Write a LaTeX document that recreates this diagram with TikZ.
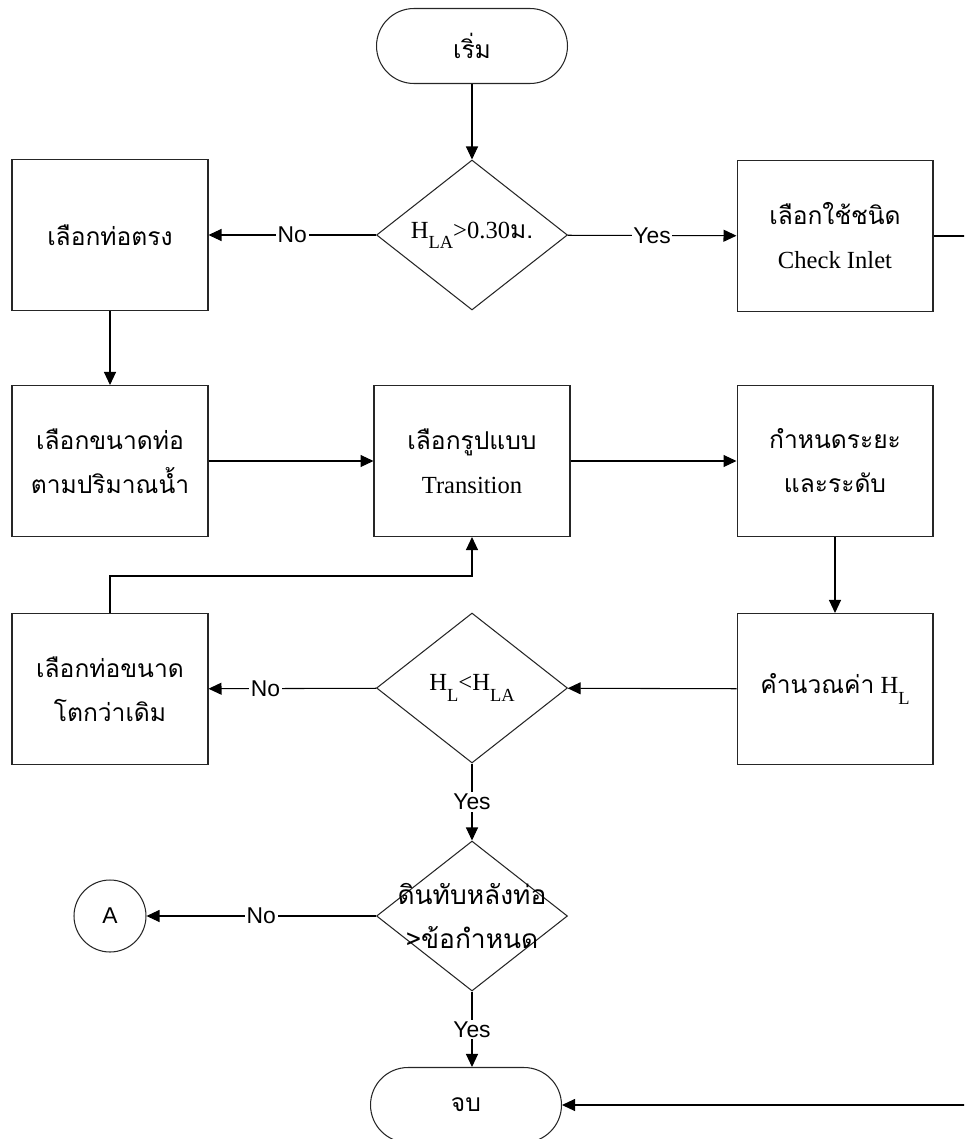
\documentclass[tikz,border=0pt]{standalone}
\usepackage{fontspec}
\setmainfont{Liberation Serif}
\newfontfamily\thaifont[Script=Thai]{Loma}
\newfontfamily\arialfont{Liberation Sans}
\usetikzlibrary{shapes.geometric,arrows.meta}
\newcommand{\lsub}[1]{\raisebox{-0.9ex}{\fontsize{10.5}{10.5}\selectfont #1}}

\begin{document}
\begin{tikzpicture}[x=0.02cm, y=-0.02cm,
    every node/.style={font=\fontsize{14}{25}\selectfont, align=center},
    box/.style={draw=black!85, line width=0.6pt, minimum width=3.92cm, minimum height=3.02cm},
    term/.style={draw=black!85, line width=0.6pt, rounded corners=0.75cm, minimum width=3.82cm, minimum height=1.5cm},
    cond/.style={draw=black!85, line width=0.6pt, diamond, aspect=1.27, minimum width=3.82cm, minimum height=3cm, inner sep=0pt},
    conn/.style={draw=black!85, line width=0.6pt, circle, minimum size=1.44cm, font=\arialfont\fontsize{13}{13}\selectfont},
    lbl/.style={fill=white, inner sep=1pt, font=\arialfont\fontsize{13}{13}\selectfont},
    arr/.style={-{Triangle[length=0.26cm,width=0.24cm]}, line width=0.6pt}]
      \clip (0,0) rectangle (964,1139);

      % Nodes
      \node[term] (start) at (472,46) {\thaifont เริ่ม};
      \node[cond] (d1) at (472,235) [label=center:{H\lsub{LA}>0.30{\thaifont ม.}}] {};
      \node[box] (straight) at (110,235) {\thaifont เลือกท่อตรง};
      \node[box] (check) at (835,236) {{\thaifont เลือกใช้ชนิด}\\Check Inlet};

      \node[box] (size) at (110,461) {\thaifont เลือกขนาดท่อ\\\thaifont ตามปริมาณน้ำ};
      \node[box] (trans) at (472,461) {{\thaifont เลือกรูปแบบ}\\Transition};
      \node[box] (dist) at (835,461) {\thaifont กำหนดระยะ\\\thaifont และระดับ};

      \node[box] (calc) at (835,689) {{\thaifont คำนวณค่า} H\lsub{L}};
      \node[cond] (d2) at (472,688) [label=center:{H\lsub{L}<H\lsub{LA}}] {};
      \node[box] (bigger) at (110,689) {\thaifont เลือกท่อขนาด\\\thaifont โตกว่าเดิม};

      \node[cond] (d3) at (472,916) [label={[align=center, font=\thaifont\fontsize{15}{25}\selectfont]center:ดินทับหลังท่อ\\>ข้อกำหนด}] {};
      \node[conn] (conA) at (110,916) {A};
      \node[term] (finish) at (466,1105) {\thaifont จบ};

      \coordinate (loop) at (110,576);
      \coordinate (edge) at (990,236);

      % Draw connectors
      \draw[arr] (start) -- (d1);
      \draw[arr] (d1) -- node[lbl] {No} (straight);
      \draw[arr] (d1) -- node[lbl] {Yes} (check);
      \draw[arr] (straight) -- (size);
      \draw[arr] (size) -- (trans);
      \draw[arr] (trans) -- (dist);
      \draw[arr] (dist) -- (calc);
      \draw[arr] (calc) -- (d2);
      \draw[arr] (d2) -- node[lbl, pos=0.66] {No} (bigger);
      \draw[arr] (bigger.north) -- (loop) -| (trans.south);
      \draw[arr] (d2) -- node[lbl] {Yes} (d3);
      \draw[arr] (d3) -- node[lbl] {No} (conA);
      \draw[arr] (d3.south) -- node[lbl] {Yes} (d3.south |- finish.north);
      \draw[arr] (check.east) -- (edge) |- (finish.east);

    \end{tikzpicture}
\end{document}
